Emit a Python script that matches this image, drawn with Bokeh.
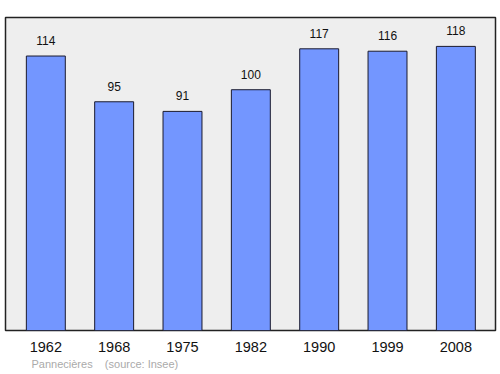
from bokeh.plotting import figure
from bokeh.models import Range1d, FixedTicker, Title, ColumnDataSource
from bokeh.core.properties import value
from bokeh.embed import file_html
from bokeh.resources import INLINE

years = ["1962", "1968", "1975", "1982", "1990", "1999", "2008"]
population = [114, 95, 91, 100, 117, 116, 118]
footer_place = "Pannecières"
footer_source = "(source: Insee)"

idx = list(range(len(years)))
src = ColumnDataSource(dict(x=idx, top=population, lab=[str(v) for v in population]))

p = figure(width=500, height=374, output_backend="svg", toolbar_location=None,
           x_range=Range1d(-0.59, 6.58), y_range=Range1d(0, 130),
           min_border_left=5, min_border_right=5, min_border_top=17, min_border_bottom=44)
p.background_fill_color = "#eeeeee"
p.border_fill_color = "white"
p.outline_line_color = "#222222"
p.outline_line_width = 1.5
p.grid.visible = False
p.yaxis.visible = False

p.vbar(x="x", top="top", width=0.57, bottom=0, source=src,
       fill_color="#7396ff", line_color="#1a1a2e", line_width=1)
p.text(x="x", y="top", text="lab", source=src, y_offset=-11,
       text_align="center", text_baseline="bottom",
       text_font=value("Liberation Sans"), text_font_size="12px", text_color="#111111")

ax = p.xaxis[0]
ax.ticker = FixedTicker(ticks=idx)
ax.major_label_overrides = {i: y for i, y in zip(idx, years)}
ax.axis_line_color = None
ax.major_tick_line_color = None
ax.minor_tick_line_color = None
ax.major_tick_out = 0
ax.major_tick_in = 0
ax.major_label_standoff = 11
ax.major_label_text_font = "Liberation Sans"
ax.major_label_text_font_size = "14.5px"
ax.major_label_text_color = "#111111"

footer = Title(text=footer_place + "\u00a0\u00a0\u00a0\u00a0" + footer_source,
               align="left", offset=26, text_font="Liberation Sans",
               text_font_size="11px", text_font_style="normal", text_color="#aaaaaa",
               standoff=2)
p.add_layout(footer, "below")

open("out.html", "w").write(file_html(p, INLINE))
